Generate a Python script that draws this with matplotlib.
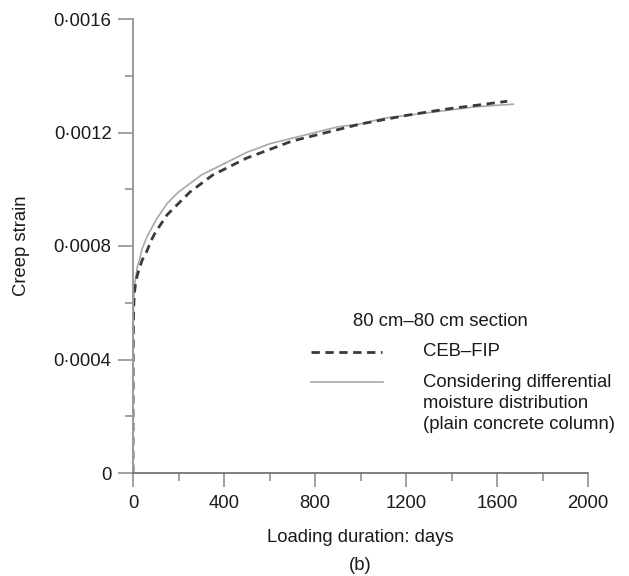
import matplotlib
matplotlib.use("Agg")
import matplotlib.pyplot as plt
from matplotlib.lines import Line2D
from matplotlib.ticker import FixedLocator

plt.rcParams['font.family'] = ['Liberation Sans', 'DejaVu Sans']

# Data
t_ceb = [0, 0.5, 1, 2, 3, 5, 7, 10, 14, 20, 28, 40, 60, 80, 100, 125, 150, 175, 200, 250, 300,
         350, 400, 450, 500, 600, 700, 800, 900, 1000, 1100, 1200, 1300, 1400, 1500, 1645]
v_ceb = [0, 0.00030, 0.00045, 0.00054, 0.00058, 0.00062, 0.00064, 0.00066, 0.00068, 0.00070,
         0.00072, 0.00075, 0.00078, 0.00082, 0.00085, 0.00088, 0.00091, 0.00093, 0.00095, 0.00099,
         0.00102, 0.00105, 0.00107, 0.00109, 0.00111, 0.00114, 0.00117, 0.00119, 0.00121, 0.00123,
         0.001245, 0.00126, 0.001273, 0.001285, 0.001295, 0.00131]
t_diff = [0, 0.5, 1, 2, 3, 5, 7, 10, 14, 20, 28, 40, 60, 80, 100, 125, 150, 175, 200, 250, 300,
          350, 400, 450, 500, 600, 700, 800, 900, 1000, 1100, 1200, 1300, 1400, 1500, 1675]
v_diff = [0, 0.00035, 0.00050, 0.00057, 0.00061, 0.00064, 0.00066, 0.00068, 0.00070, 0.00073,
          0.00075, 0.00079, 0.00083, 0.00086, 0.00089, 0.00092, 0.00095, 0.00097, 0.00099, 0.00102,
          0.00105, 0.00107, 0.00109, 0.00111, 0.00113, 0.00116, 0.00118, 0.00120, 0.00122, 0.00123,
          0.00125, 0.00126, 0.00127, 0.00128, 0.00129, 0.00130]

x_ticks = [0, 400, 800, 1200, 1600, 2000]
y_ticks = [0, 0.0004, 0.0008, 0.0012, 0.0016]
y_tick_labels = ['0', '0·0004', '0·0008', '0·0012', '0·0016']
legend_title = '80 cm–80 cm section'
labels = ['CEB–FIP', 'Considering differential\nmoisture distribution\n(plain concrete column)']

FS = 13.3
TXT = '#1a1a1a'

fig = plt.figure(figsize=(6.29, 5.76), dpi=100)
ax = fig.add_axes([133/629, 1-473/576, (588-133)/629, (473-19)/576])

ax.plot(t_diff, v_diff, color='#a8a8a8', lw=1.2, solid_capstyle='butt')
ax.plot(t_ceb, v_ceb, color='#3a3a3a', lw=2.0, dashes=(3, 2))

ax.set_xlim(0, 2000)
ax.set_ylim(0, 0.0016)
ax.spines['top'].set_visible(False)
ax.spines['right'].set_visible(False)
ax.spines['left'].set_color('#9a9a9a')
ax.spines['left'].set_linewidth(1.4)
ax.spines['bottom'].set_color('#6a6a6a')
ax.spines['bottom'].set_linewidth(1.2)

ax.xaxis.set_major_locator(FixedLocator(x_ticks))
ax.xaxis.set_minor_locator(FixedLocator([200, 600, 1000, 1400, 1800]))
ax.yaxis.set_major_locator(FixedLocator(y_ticks))
ax.yaxis.set_minor_locator(FixedLocator([0.0002, 0.0006, 0.0010, 0.0014]))
ax.set_yticklabels(y_tick_labels)
ax.tick_params(axis='both', which='major', direction='out', length=10.5, width=1.3,
               color='#9a9a9a', labelsize=FS, labelcolor=TXT, pad=5)
ax.tick_params(axis='both', which='minor', direction='out', length=5.5, width=1.3, color='#9a9a9a')
ax.tick_params(axis='x', which='major', length=10, pad=6)

fig.text(22/629, 1-246/576, 'Creep strain', rotation=90, ha='center', va='center',
         fontsize=FS, color=TXT)
fig.text(360/629, 1-537/576, 'Loading duration: days', ha='center', va='center',
         fontsize=FS, color=TXT)
fig.text(360/629, 1-565/576, '(b)', ha='center', va='center', fontsize=FS, color=TXT)

# Legend
fig.text(440/629, 1-322/576, legend_title, ha='center', va='center', fontsize=FS, color=TXT)
fig.add_artist(Line2D([311/629, 382/629], [1-352/576]*2, transform=fig.transFigure,
                      color='#3a3a3a', lw=2.0, dashes=(3, 2)))
fig.add_artist(Line2D([311/629, 383/629], [1-382/576]*2, transform=fig.transFigure,
                      color='#a8a8a8', lw=1.2))
fig.text(423/629, 1-352/576, labels[0], ha='left', va='center', fontsize=FS, color=TXT)
fig.text(423/629, 1-374/576, labels[1], ha='left', va='top', fontsize=FS,
         color=TXT, linespacing=1.3)

fig.savefig('out.png', dpi=100)
